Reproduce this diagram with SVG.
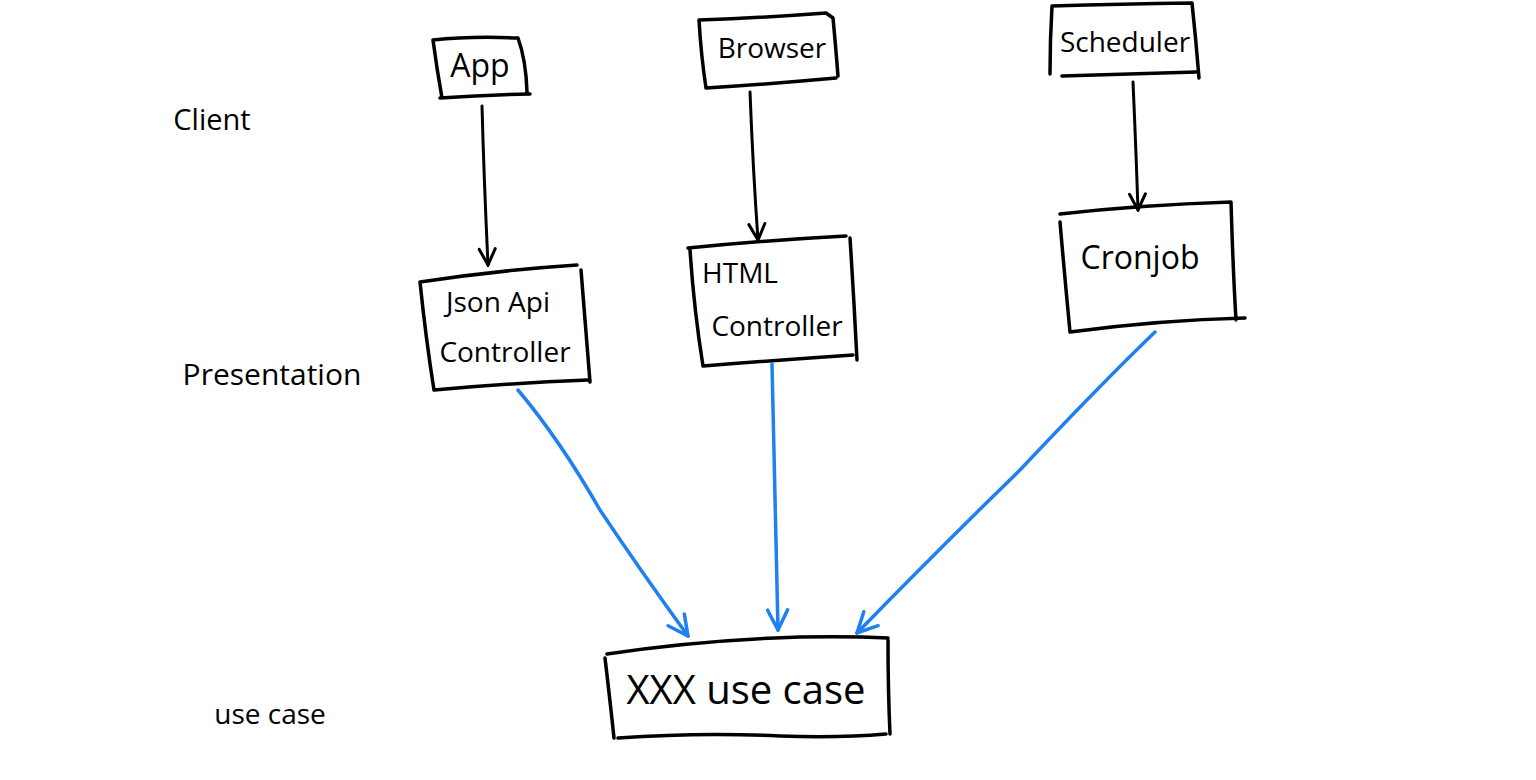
<svg xmlns="http://www.w3.org/2000/svg" width="1536" height="780" viewBox="0 0 1536 780">
<style>
.box{fill:none;stroke:#000;stroke-width:3.5;stroke-linecap:round;stroke-linejoin:round}
.lbl{font-family:"Open Sans","Liberation Sans",sans-serif;fill:#000;text-anchor:middle}
.blk{fill:none;stroke:#000;stroke-width:3;stroke-linecap:round}
.blu{fill:none;stroke:#1f80f0;stroke-width:3.5;stroke-linecap:round}
</style>
<defs>
<marker id="ak" viewBox="0 0 20 20" refX="18" refY="10" markerWidth="20" markerHeight="20" markerUnits="userSpaceOnUse" orient="auto">
<path d="M2,2 L18,10 L2,18" fill="none" stroke="#000" stroke-width="3" stroke-linecap="round"/>
</marker>
<marker id="ab" viewBox="0 0 24 24" refX="22" refY="12" markerWidth="24" markerHeight="24" markerUnits="userSpaceOnUse" orient="auto">
<path d="M2,2 L22,12 L2,22" fill="none" stroke="#1f80f0" stroke-width="3.5" stroke-linecap="round"/>
</marker>
</defs>
<rect width="1536" height="780" fill="#fff"/>
<g id="label-client"><text class="lbl" x="212" y="130" font-size="29">Client</text></g>
<g id="label-presentation"><text class="lbl" x="272" y="385" font-size="30">Presentation</text></g>
<g id="label-usecase"><text class="lbl" x="270" y="724" font-size="28">use case</text></g>
<g id="app">
<path class="box" d="M433,40 Q470,36 518,38 Q526,60 527,92 M440,98 Q485,95 530,94 M433,40 Q437,70 442,98"/>
<text class="lbl" x="480" y="77" font-size="32">App</text>
</g>
<g id="browser">
<path class="box" d="M699,20 Q760,18 826,13 L833,18 Q836,50 838,76 M706,88 Q770,84 836,78 M699,20 Q701,55 706,88"/>
<text class="lbl" x="772" y="58" font-size="28">Browser</text>
</g>
<g id="scheduler">
<path class="box" d="M1052,6 Q1120,4 1192,3 Q1196,40 1199,78 M1062,76 Q1130,74 1196,72 M1052,6 Q1050,40 1050,74"/>
<text class="lbl" x="1125" y="52" font-size="28">Scheduler</text>
</g>
<g id="jsonapi">
<path class="box" d="M420,282 Q500,270 577,265 M581,270 Q586,330 590,382 M434,390 Q510,383 588,380 M420,282 Q426,340 434,390"/>
<text class="lbl" x="498" y="312" font-size="28">Json Api</text>
<text class="lbl" x="505" y="362" font-size="28">Controller</text>
</g>
<g id="html">
<path class="box" d="M688,248 Q770,240 846,236 M850,238 Q854,300 857,360 M703,366 Q780,360 853,355 M690,250 Q694,310 703,366"/>
<text class="lbl" x="740" y="283" font-size="28">HTML</text>
<text class="lbl" x="777" y="336" font-size="28">Controller</text>
</g>
<g id="cronjob">
<path class="box" d="M1060,214 Q1140,205 1231,202 M1231,202 Q1233,270 1236,320 M1070,332 Q1160,320 1245,318 M1060,222 Q1065,280 1070,332"/>
<text class="lbl" x="1140" y="269" font-size="32">Cronjob</text>
</g>
<g id="xxxusecase">
<path class="box" d="M607,654 Q700,640 800,637 Q850,636 888,638 M888,640 Q888,690 890,734 M618,738 Q700,732 780,736 Q840,738 886,734 M605,658 Q610,700 614,738"/>
<text class="lbl" x="746" y="704" font-size="40">XXX use case</text>
</g>
<g id="connectors">
<path class="blk" d="M482,106 Q484,180 488,265" marker-end="url(#ak)"/>
<path class="blk" d="M750,92 Q753,170 758,240" marker-end="url(#ak)"/>
<path class="blk" d="M1133,82 Q1136,150 1138,210" marker-end="url(#ak)"/>
<path class="blu" d="M518,390 Q560,440 600,510 Q640,570 688,636" marker-end="url(#ab)"/>
<path class="blu" d="M772,364 Q775,480 778,630" marker-end="url(#ab)"/>
<path class="blu" d="M1155,332 Q1100,385 1020,470 Q940,548 857,633" marker-end="url(#ab)"/>
</g>
</svg>
